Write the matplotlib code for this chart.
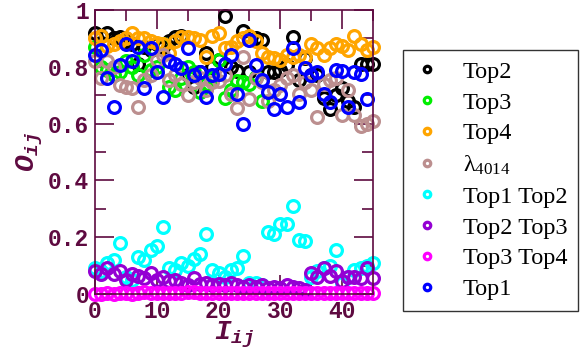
import matplotlib
matplotlib.use('Agg')
import matplotlib.pyplot as plt
from matplotlib.ticker import MultipleLocator, FixedLocator
from matplotlib.font_manager import FontProperties
import numpy as np

# values, one point per index I_ij
top2 = [0.92, 0.91, 0.92, 0.90, 0.905, 0.89, 0.88, 0.81, 0.87, 0.86, 0.88, 0.87,
        0.89, 0.905, 0.91, 0.77, 0.73, 0.78, 0.85, 0.80, 0.825, 0.98, 0.80, 0.785,
        0.925, 0.78, 0.90, 0.895, 0.78, 0.78, 0.79, 0.805, 0.905, 0.755, 0.83, 0.77,
        0.77, 0.69, 0.65, 0.70, 0.725, 0.68, 0.66, 0.81, 0.81, 0.81]
top3 = [0.87, 0.80, 0.79, 0.77, 0.78, 0.82, 0.80, 0.77, 0.84, 0.79, 0.80, 0.88,
        0.73, 0.72, 0.76, 0.80, 0.78, 0.71, 0.74, 0.76, 0.825, 0.69, 0.72, 0.75,
        0.745, 0.74, 0.765, 0.68]
top4 = [0.90, 0.91, 0.875, 0.88, 0.89, 0.90, 0.92, 0.90, 0.90, 0.89, 0.885, 0.88,
        0.85, 0.89, 0.905, 0.905, 0.90, 0.895, 0.835, 0.91, 0.92, 0.865, 0.87, 0.89,
        0.90, 0.91, 0.89, 0.85, 0.835, 0.83, 0.825, 0.84, 0.835, 0.84, 0.835, 0.88,
        0.865, 0.84, 0.865, 0.88, 0.875, 0.86, 0.91, 0.88, 0.86, 0.87]
lam4014 = [0.82, 0.76, 0.82, 0.80, 0.735, 0.73, 0.725, 0.66, 0.755, 0.77, 0.825, 0.84,
           0.755, 0.77, 0.74, 0.70, 0.745, 0.76, 0.72, 0.745, 0.75, 0.77, 0.705, 0.655,
           0.835, 0.685, 0.76, 0.745, 0.68, 0.72, 0.735, 0.76, 0.77, 0.705, 0.745, 0.72,
           0.625, 0.74, 0.755, 0.76, 0.63, 0.72, 0.63, 0.59, 0.60, 0.61]
top1_top2 = [0.09, 0.08, 0.11, 0.12, 0.18, 0.06, 0.05, 0.13, 0.12, 0.155, 0.17, 0.235,
             0.09, 0.085, 0.11, 0.10, 0.125, 0.14, 0.21, 0.085, 0.075, 0.06, 0.085, 0.09,
             0.135, 0.04, 0.04, 0.03, 0.22, 0.21, 0.245, 0.245, 0.31, 0.19, 0.185, 0.06,
             0.08, 0.09, 0.10, 0.155, 0.04, 0.06, 0.085, 0.09, 0.10, 0.11]
top2_top3 = [0.08, 0.07, 0.09, 0.07, 0.08, 0.05, 0.07, 0.065, 0.055, 0.075, 0.05, 0.06,
             0.045, 0.05, 0.04, 0.03, 0.055, 0.035, 0.04, 0.03, 0.035, 0.03, 0.04, 0.03,
             0.025, 0.03, 0.025, 0.03, 0.02, 0.025, 0.02, 0.03, 0.025, 0.02, 0.015, 0.075,
             0.06, 0.09, 0.065, 0.08, 0.045, 0.06, 0.06, 0.055, 0.09, 0.055]
top3_top4 = [0.0, 0.0, 0.002, 0.0, 0.003, 0.002, 0.0, 0.004, 0.006, 0.003, 0.002, 0.004,
             0.003, 0.005, 0.004, 0.008, 0.006, 0.004, 0.003, 0.002, 0.003, 0.004, 0.003,
             0.002, 0.004, 0.003, 0.002, 0.003, 0.002, 0.005, 0.003, 0.002, 0.004, 0.003,
             0.002, 0.002, 0.003, 0.002, 0.004, 0.003, 0.002, 0.003, 0.004, 0.003, 0.002, 0.003]
top1 = [0.84, 0.86, 0.76, 0.66, 0.805, 0.88, 0.82, 0.87, 0.725, 0.865, 0.78, 0.695,
        0.82, 0.81, 0.795, 0.865, 0.77, 0.78, 0.695, 0.77, 0.775, 0.81, 0.84, 0.705,
        0.60, 0.895, 0.805, 0.755, 0.71, 0.65, 0.705, 0.66, 0.865, 0.675, 0.795, 0.77,
        0.78, 0.705, 0.675, 0.79, 0.785, 0.66, 0.78, 0.775, 0.685]

series = [
    (top2, 'black', 'Top2'),
    (top3, '#00ee00', 'Top3'),
    (top4, '#ffa500', 'Top4'),
    (lam4014, '#bc8f8f', r'$\mathrm{\lambda}_{\mathrm{4014}}$'),
    (top1_top2, '#00ffff', 'Top1 Top2'),
    (top2_top3, '#9400d3', 'Top2 Top3'),
    (top3_top4, '#ff00ff', 'Top3 Top4'),
    (top1, '#0000ff', 'Top1'),
]

axis_col = '#5e0a40'
# axis labels: bold italic monospace, legend maths: Times-like
plt.rcParams['mathtext.fontset'] = 'custom'
plt.rcParams['mathtext.it'] = 'Liberation Mono:italic:bold'
plt.rcParams['mathtext.rm'] = 'Liberation Serif'

fig = plt.figure(figsize=(5.81, 3.57), dpi=100)
ax = fig.add_axes([95 / 581, 63 / 357, 278 / 581, 284 / 357])

for vals, col, lab in series:
    ax.plot(np.arange(len(vals)), vals, 'o', ls='none', mfc='none', mec=col,
            ms=8.5, mew=2.3, label=lab, clip_on=False)

ax.set_xlim(0, 45)
ax.set_ylim(0, 1)
ax.xaxis.set_major_locator(FixedLocator([0, 10, 20, 30, 40]))
ax.xaxis.set_minor_locator(MultipleLocator(5))
ax.yaxis.set_minor_locator(MultipleLocator(0.1))
ax.set_yticks([0, 0.2, 0.4, 0.6, 0.8, 1.0])
ax.set_yticklabels(['0', '0.2', '0.4', '0.6', '0.8', '1'])

tick_fp = FontProperties(family='Liberation Mono', weight='bold', size=16.5)
for lbl in ax.get_xticklabels() + ax.get_yticklabels():
    lbl.set_fontproperties(tick_fp)
    lbl.set_color(axis_col)

ax.tick_params(which='both', direction='in', top=True, right=True, colors=axis_col, width=1.2)
ax.tick_params(which='major', length=14, pad=4)
ax.tick_params(which='minor', length=8)
for sp in ax.spines.values():
    sp.set_color(axis_col)
    sp.set_linewidth(1.2)

ax.set_xlabel(r'$I_{ij}$', fontsize=20, color=axis_col, labelpad=-2)
ax.set_ylabel(r'$O_{ij}$', fontsize=20, color=axis_col, labelpad=2)

leg = fig.legend(loc='upper left', bbox_to_anchor=(403 / 581, 1 - 50 / 357),
                 prop=dict(family='Liberation Serif', size=17.5), markerscale=0.55,
                 frameon=True, fancybox=False, edgecolor='black', handlelength=1.1,
                 handletextpad=0.9, labelspacing=0.36, borderpad=0.45, borderaxespad=0)
leg.get_frame().set_linewidth(1.0)

fig.savefig('out.png', dpi=100)
